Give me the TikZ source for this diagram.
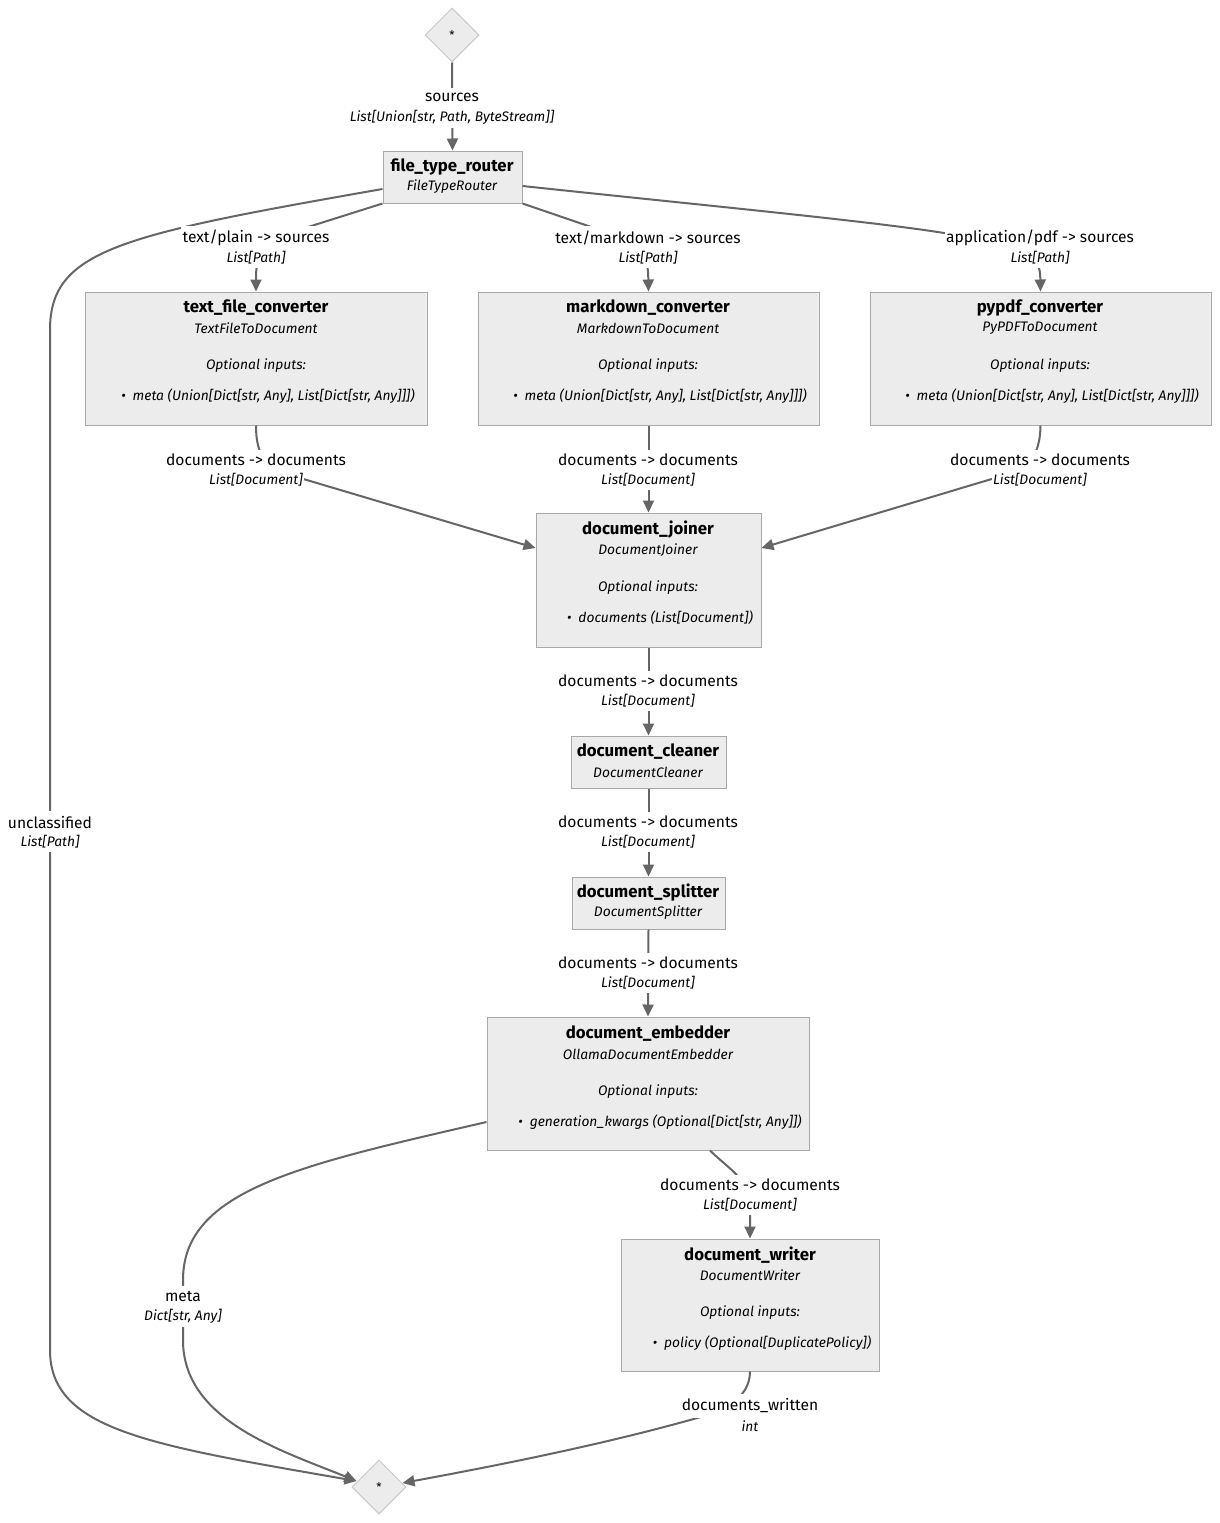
\documentclass[tikz,border=0pt]{standalone}
\usepackage{fontspec}
\setmainfont{Fira Sans}
\usetikzlibrary{shapes.geometric,arrows.meta}
\definecolor{boxfill}{HTML}{ECECEC}
\definecolor{boxline}{HTML}{A9A9A9}
\definecolor{dialine}{HTML}{C8C8C8}
\definecolor{edgecol}{HTML}{666666}
\tikzset{
  box/.style={draw=boxline, fill=boxfill, line width=1pt, rectangle, inner sep=0pt},
  dia/.style={draw=dialine, fill=boxfill, line width=1pt, diamond, aspect=1, inner sep=0pt, minimum width=54pt, minimum height=54pt, font=\fontsize{12}{14}\selectfont},
  ttl/.style={font=\bfseries\fontsize{16.8}{18}\selectfont, inner sep=0pt},
  sub/.style={font=\itshape\fontsize{13.8}{15}\selectfont, inner sep=0pt},
  elab/.style={font=\fontsize{15.6}{18}\selectfont, fill=white, inner xsep=1.5pt, inner ysep=4.5pt},
  etype/.style={font=\itshape\fontsize{13.8}{15}\selectfont, fill=white, inner xsep=1.5pt, inner ysep=4pt},
  edge/.style={draw=edgecol, line width=2pt, -{Triangle[length=12pt,width=11pt]}},
}
\begin{document}
\begin{tikzpicture}[x=1pt,y=-1pt]
\useasboundingbox (0,0) rectangle (1220,1523);
\fill[white] (0,0) rectangle (1220,1523);

% ---------- start / end diamonds
\node[dia] (start) at (452,35) {*};
\node[dia] (end) at (379,1487) {*};

% ---------- boxes
\node[box, minimum width=139pt, minimum height=52pt] (router) at (452.5,177) {};
\node[box, minimum width=342pt, minimum height=133pt] (tfc) at (256,358.5) {};
\node[box, minimum width=341pt, minimum height=133pt] (mdc) at (648.5,358.5) {};
\node[box, minimum width=341pt, minimum height=133pt] (pdf) at (1040.5,358.5) {};
\node[box, minimum width=225pt, minimum height=134pt] (joiner) at (648.5,580) {};
\node[box, minimum width=155pt, minimum height=52pt] (cleaner) at (648.5,762) {};
\node[box, minimum width=153pt, minimum height=52pt] (splitter) at (648.5,903) {};
\node[box, minimum width=322pt, minimum height=133pt] (emb) at (648,1083.5) {};
\node[box, minimum width=258pt, minimum height=132pt] (writer) at (750,1305) {};

% ---------- connectors
\draw[edge] (start.south) -- (router.north);
\draw[edge] (router.south west) -- (305,228) .. controls (256,246) and (256,262) .. (tfc.north);
\draw[edge] (router.south east) -- (600,230) .. controls (648,248) and (648,262) .. (mdc.north);
\draw[edge] ([yshift=-9pt]router.east) .. controls (700,205) and (880,222) .. (950,234) .. controls (1040,250) and (1040,262) .. (pdf.north);
\draw[edge] ([yshift=-12pt]router.west) .. controls (120,235) and (50,250) .. (50,330) -- (50,1350) .. controls (50,1430) and (150,1445) .. ([xshift=5pt,yshift=6pt]end.west);
\draw[edge] (tfc.south) .. controls (256,455) and (265,470) .. (300,478) -- ([yshift=32pt]joiner.west);
\draw[edge] (mdc.south) -- (joiner.north);
\draw[edge] (pdf.south) .. controls (1040,455) and (1030,470) .. (995,478) -- ([yshift=32pt]joiner.east);
\draw[edge] (joiner.south) -- (cleaner.north);
\draw[edge] (cleaner.south) -- (splitter.north);
\draw[edge] (splitter.south) -- (emb.north);
\draw[edge] ([xshift=62pt]emb.south) .. controls (730,1170) and (750,1180) .. (750,1205) -- (writer.north);
\draw[edge] ([yshift=-38.5pt]emb.west) .. controls (300,1165) and (183,1190) .. (183,1280) -- (183,1340) .. controls (183,1420) and (280,1450) .. ([xshift=5pt,yshift=6pt]end.west);
\draw[edge] (writer.south) .. controls (750,1400) and (720,1412) .. (690,1420) .. controls (600,1445) and (500,1465) .. ([xshift=-4pt,yshift=4pt]end.east);

% ---------- edge labels
\node[elab] (l1a) at (452,97) {sources};
\node[etype] (l1b) at (452,117) {List[Union[str, Path, ByteStream]]};
\node[elab] (l2a) at (256,238) {text/plain -> sources};
\node[etype] (l2b) at (256,258) {List[Path]};
\node[elab] (l3a) at (648,238) {text/markdown -> sources};
\node[etype] (l3b) at (648,258) {List[Path]};
\node[elab] (l4a) at (1040,238) {application/pdf -> sources};
\node[etype] (l4b) at (1040,258) {List[Path]};
\node[elab] (l5a) at (50,822) {unclassified};
\node[etype] (l5b) at (50,842) {List[Path]};
\node[elab] (l6a) at (256,460) {documents -> documents};
\node[etype] (l6b) at (256,480) {List[Document]};
\node[elab] (l7a) at (648,460) {documents -> documents};
\node[etype] (l7b) at (648,480) {List[Document]};
\node[elab] (l8a) at (1040,460) {documents -> documents};
\node[etype] (l8b) at (1040,480) {List[Document]};
\node[elab] (l9a) at (648,681) {documents -> documents};
\node[etype] (l9b) at (648,701) {List[Document]};
\node[elab] (l10a) at (648,822) {documents -> documents};
\node[etype] (l10b) at (648,842) {List[Document]};
\node[elab] (l11a) at (648,963) {documents -> documents};
\node[etype] (l11b) at (648,983) {List[Document]};
\node[elab] (l12a) at (750,1185) {documents -> documents};
\node[etype] (l12b) at (750,1205) {List[Document]};
\node[elab] (l13a) at (183,1296) {meta};
\node[etype] (l13b) at (183,1316) {Dict[str, Any]};
\node[elab] (l14a) at (750,1406) {documents\_written};
\node[etype] (l14b) at (750,1426) {int};

% ---------- box texts
\node[ttl] (t1) at (452,167) {file\_type\_router};
\node[sub] (s1) at (452,187) {FileTypeRouter};

\node[ttl] (t2) at (256,308) {text\_file\_converter};
\node[sub] (s2) at (256,328) {TextFileToDocument};
\node[sub] (o2) at (256,366) {Optional inputs:};
\node[sub] (b2) at (268,396) {•\hspace{7pt}meta (Union[Dict[str, Any], List[Dict[str, Any]]])};

\node[ttl] (t3) at (648,308) {markdown\_converter};
\node[sub] (s3) at (648,328) {MarkdownToDocument};
\node[sub] (o3) at (648,366) {Optional inputs:};
\node[sub] (b3) at (660,396) {•\hspace{7pt}meta (Union[Dict[str, Any], List[Dict[str, Any]]])};

\node[ttl] (t4) at (1040,308) {pypdf\_converter};
\node[sub] (s4) at (1040,328) {PyPDFToDocument};
\node[sub] (o4) at (1040,366) {Optional inputs:};
\node[sub] (b4) at (1052,396) {•\hspace{7pt}meta (Union[Dict[str, Any], List[Dict[str, Any]]])};

\node[ttl] (t5) at (648,530) {document\_joiner};
\node[sub] (s5) at (648,550) {DocumentJoiner};
\node[sub] (o5) at (648,588) {Optional inputs:};
\node[sub] (b5) at (660,618) {•\hspace{7pt}documents (List[Document])};

\node[ttl] (t6) at (648,752) {document\_cleaner};
\node[sub] (s6) at (648,772) {DocumentCleaner};

\node[ttl] (t7) at (648,893) {document\_splitter};
\node[sub] (s7) at (648,913) {DocumentSplitter};

\node[ttl] (t8) at (648,1034) {document\_embedder};
\node[sub] (s8) at (648,1054) {OllamaDocumentEmbedder};
\node[sub] (o8) at (648,1092) {Optional inputs:};
\node[sub] (b8) at (660,1122) {•\hspace{7pt}generation\_kwargs (Optional[Dict[str, Any]])};

\node[ttl] (t9) at (750,1255) {document\_writer};
\node[sub] (s9) at (750,1275) {DocumentWriter};
\node[sub] (o9) at (750,1313) {Optional inputs:};
\node[sub] (b9) at (762,1343) {•\hspace{7pt}policy (Optional[DuplicatePolicy])};
\end{tikzpicture}
\end{document}
